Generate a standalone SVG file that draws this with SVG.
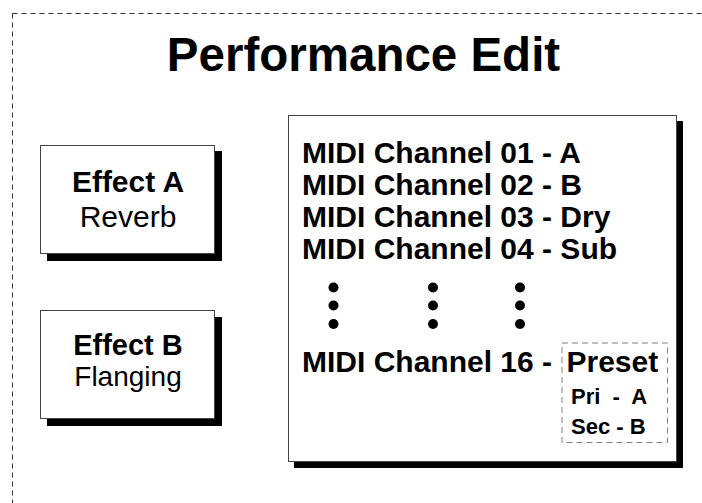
<svg xmlns="http://www.w3.org/2000/svg" width="702" height="503" viewBox="0 0 702 503">
<style>
text{font-family:"Liberation Sans",Arial,sans-serif;fill:#000}
.b{font-weight:bold}
.n{font-weight:normal}
.box{fill:#fff;stroke:#444;stroke-width:1}
.sh{fill:#000}
.dot{fill:#000}
</style>
<rect x="12.5" y="13.5" width="720" height="520" fill="none" stroke="#333" stroke-width="1" stroke-dasharray="5,4"/>
<text class="b" x="363.5" y="71" font-size="47.5" text-anchor="middle">Performance Edit</text>
<g id="effectA">
<rect class="sh" x="47" y="151" width="175" height="110"/>
<rect class="box" x="40.5" y="145.5" width="174" height="108"/>
<text class="b" x="128" y="191.5" font-size="30" text-anchor="middle">Effect A</text>
<text class="n" x="128" y="226.5" font-size="30" text-anchor="middle">Reverb</text>
</g>
<g id="effectB">
<rect class="sh" x="47" y="317" width="175" height="109"/>
<rect class="box" x="40.5" y="310.5" width="174" height="108"/>
<text class="b" x="128" y="354.5" font-size="29" text-anchor="middle">Effect B</text>
<text class="n" x="128" y="386" font-size="28" text-anchor="middle">Flanging</text>
</g>
<g id="channels">
<rect class="sh" x="294" y="121" width="389" height="347"/>
<rect class="box" x="288.5" y="115.5" width="388" height="346"/>
<text class="b" x="302" y="162.5" font-size="30">MIDI Channel 01 - A</text>
<text class="b" x="302" y="194.5" font-size="30">MIDI Channel 02 - B</text>
<text class="b" x="302" y="226.5" font-size="30">MIDI Channel 03 - Dry</text>
<text class="b" x="302" y="258.5" font-size="30">MIDI Channel 04 - Sub</text>
<g class="dot">
<circle cx="333.5" cy="287.5" r="5"/><circle cx="333.5" cy="305.5" r="5"/><circle cx="333.5" cy="324" r="5"/>
<circle cx="433" cy="287.5" r="5"/><circle cx="433" cy="305.5" r="5"/><circle cx="433" cy="324" r="5"/>
<circle cx="520" cy="287.5" r="5"/><circle cx="520" cy="305.5" r="5"/><circle cx="520" cy="324" r="5"/>
</g>
<text class="b" x="302" y="371.5" font-size="30">MIDI Channel 16 -</text>
</g>
<g id="preset">
<rect x="562" y="343" width="105.5" height="99.5" fill="none" stroke="#808080" stroke-width="1" stroke-dasharray="6,4"/>
<text class="b" x="566.5" y="371.5" font-size="30">Preset</text>
<text class="b" x="571" y="403.5" font-size="22" xml:space="preserve">Pri  -  A</text>
<text class="b" x="571" y="433.5" font-size="22">Sec - B</text>
</g>
</svg>
